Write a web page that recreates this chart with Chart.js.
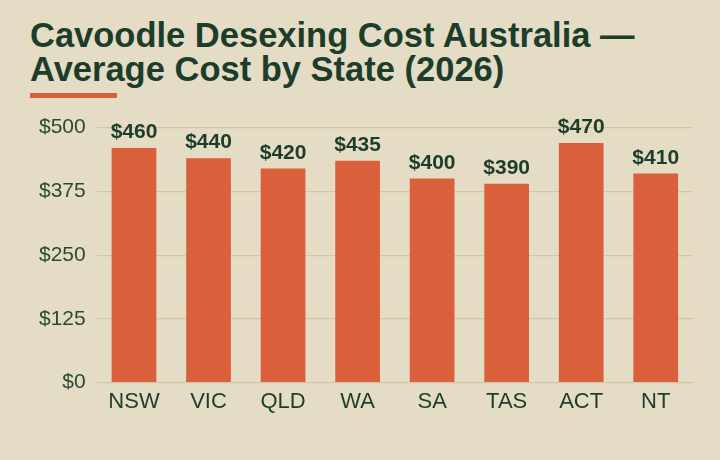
<!DOCTYPE html>
<html>
<head>
<meta charset="utf-8">
<script src="https://cdn.jsdelivr.net/npm/chart.js@4.4.1/dist/chart.umd.min.js"></script>
<style>
  html, body { margin: 0; padding: 0; background: #e5dcc6; }
  body { width: 720px; height: 460px; position: relative; overflow: hidden; font-family: "Liberation Sans", Arial, sans-serif; }
  #title { position: absolute; left: 30px; top: 18px; margin: 0; font-size: 34.5px; line-height: 34px; font-weight: bold; color: #1d3d2b; white-space: nowrap; }
  #rule { position: absolute; left: 30px; top: 93px; width: 87px; height: 5px; background: #d9603b; }
  #wrap { position: absolute; left: 0; top: 104px; width: 720px; height: 350px; }
</style>
</head>
<body>
<h1 id="title">Cavoodle Desexing Cost Australia —<br>Average Cost by State (2026)</h1>
<div id="rule"></div>
<div id="wrap"><canvas id="bar_chart"></canvas></div>
<script>
// 데이터
var states = ['NSW', 'VIC', 'QLD', 'WA', 'SA', 'TAS', 'ACT', 'NT'];
var costs = [460, 440, 420, 435, 400, 390, 470, 410];
var yTicks = [0, 125, 250, 375, 500];

// 막대 위 금액 표시
var valueLabels = {
  id: 'valueLabels',
  afterDatasetsDraw: function(chart) {
    var ctx = chart.ctx;
    var meta = chart.getDatasetMeta(0);
    ctx.save();
    ctx.font = 'bold 21px "Liberation Sans", Arial, sans-serif';
    ctx.fillStyle = '#1d3d2b';
    ctx.textAlign = 'center';
    ctx.textBaseline = 'bottom';
    meta.data.forEach(function(bar, i) {
      ctx.fillText('$' + costs[i], bar.x, bar.y - 5);
    });
    ctx.restore();
  }
};

var ctx = document.getElementById('bar_chart').getContext('2d');
var myChart = new Chart(ctx, {
  type: 'bar',
  data: {
    labels: states,
    datasets: [{
      data: costs,
      backgroundColor: '#d9603b',
      borderWidth: 0,
      barPercentage: 0.6,
      categoryPercentage: 1.0
    }]
  },
  options: {
    responsive: true,
    maintainAspectRatio: false,
    animation: false,
    layout: { padding: { top: 6, left: 28, right: 27, bottom: 41 } },
    scales: {
      x: {
        grid: { display: false },
        border: { display: false },
        ticks: { color: '#1d3d2b', font: { size: 22, family: '"Liberation Sans", Arial, sans-serif' }, padding: -2 }
      },
      y: {
        min: 0,
        max: 500,
        afterBuildTicks: function(axis) {
          axis.ticks = yTicks.map(function(v) { return { value: v }; });
        },
        grid: { color: '#d3c6a7', lineWidth: 1.2, drawTicks: false },
        border: { display: false },
        ticks: {
          color: '#2b4a36',
          font: { size: 21, family: '"Liberation Sans", Arial, sans-serif' },
          padding: 11,
          callback: function(v) { return '$' + v; }
        }
      }
    },
    plugins: {
      legend: { display: false },
      tooltip: { enabled: false }
    }
  },
  plugins: [valueLabels]
});
</script>
</body>
</html>
